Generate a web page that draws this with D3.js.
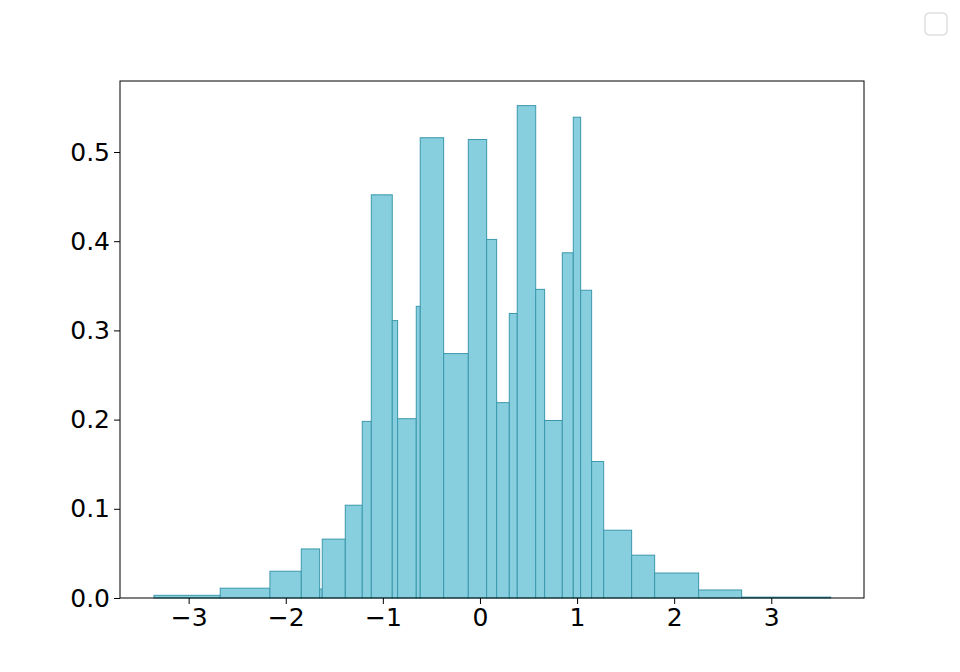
<!DOCTYPE html>
<html><head><meta charset="utf-8">
<script src="https://cdn.jsdelivr.net/npm/d3@7"></script>
<style>body{margin:0;background:#fff;} text{font-family:"DejaVu Sans",sans-serif;}</style>
</head><body>
<svg id="chart" width="960" height="672"></svg>
<script>
const binEdges = [-3.357,-2.675,-2.163,-1.840,-1.651,-1.624,-1.387,-1.212,-1.119,-0.903,-0.848,-0.656,-0.615,-0.374,-0.120,0.069,0.172,0.302,0.384,0.574,0.666,0.848,0.961,1.037,1.150,1.274,1.562,1.799,2.252,2.695,3.612];
const densities = [0.003,0.011,0.030,0.055,0.010,0.066,0.104,0.198,0.452,0.311,0.201,0.327,0.516,0.274,0.514,0.402,0.219,0.319,0.552,0.346,0.199,0.387,0.539,0.345,0.153,0.076,0.048,0.028,0.009,0.001];
const xTicks = [-3,-2,-1,0,1,2,3];
const yTicks = [0,0.1,0.2,0.3,0.4,0.5];

const svg = d3.select("#chart");
const L=120, R=864, T=81, B=598;
const x = d3.scaleLinear().domain([-3.707,3.955]).range([L,R]);
const y = d3.scaleLinear().domain([0,0.5796]).range([B,T]);

const bins = densities.map((d,i)=>({x0:binEdges[i], x1:binEdges[i+1], v:d}));
svg.append("g").selectAll("rect").data(bins).join("rect")
  .attr("x", d=>x(d.x0)).attr("width", d=>x(d.x1)-x(d.x0))
  .attr("y", d=>y(d.v)).attr("height", d=>y(0)-y(d.v))
  .attr("fill","#87cfdf").attr("stroke","#3b98ab").attr("stroke-width",1);

const fmt = v => (v<0?"\u2212":"") + Math.abs(v);
const xAxis = svg.append("g").attr("transform",`translate(0,${B})`)
  .call(d3.axisBottom(x).tickValues(xTicks).tickFormat(fmt).tickSize(6).tickPadding(4));
const yAxis = svg.append("g").attr("transform",`translate(${L},0)`)
  .call(d3.axisLeft(y).tickValues(yTicks).tickFormat(d3.format(".1f")).tickSize(6).tickPadding(4));
[xAxis,yAxis].forEach(a=>{
  a.select(".domain").remove();
  a.selectAll("text").attr("font-size",25).attr("fill","#000").attr("font-family","DejaVu Sans");
  a.selectAll("line").attr("stroke","#000");
});
svg.append("rect").attr("x",L).attr("y",T).attr("width",R-L).attr("height",B-T)
  .attr("fill","none").attr("stroke","#000").attr("stroke-width",1);

// empty legend
svg.append("rect").attr("x",925).attr("y",13).attr("width",22).attr("height",22).attr("rx",4)
  .attr("fill","#fff").attr("stroke","#d0d0d0").attr("stroke-width",1);
</script>
</body></html>
